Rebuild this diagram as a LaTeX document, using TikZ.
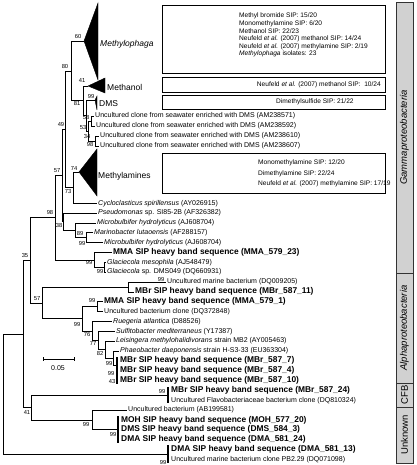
\documentclass[tikz,border=0pt]{standalone}
\usepackage{fontspec}
\setmainfont{Liberation Sans}
\usepackage{tikz}
\usetikzlibrary{calc}
\usetikzlibrary{positioning}
\tikzstyle{br} = [-, line width = 0.5]
\tikzstyle{bar} = [-, line width = 1.6]
\tikzstyle{lf} = [draw = none, inner sep = 1, anchor = west, font = \fontsize{7}{8}\selectfont]
\tikzstyle{bf} = [lf, font = \fontsize{8.4}{9}\selectfont\bfseries]
\tikzstyle{bs} = [draw = none, inner sep = 0, font = \fontsize{5.8}{6}\selectfont]
\tikzstyle{cl} = [draw = none, inner sep = 0, anchor = west, font = \fontsize{8.5}{9}\selectfont]
\tikzstyle{tri} = [fill = black, draw = black, line width = 0.4]
\tikzstyle{bx} = [draw = black, line width = 0.6]
\tikzstyle{bt} = [draw = none, inner sep = 0, anchor = west, font = \fontsize{6.6}{7}\selectfont]
\tikzstyle{grp} = [draw = black!80, fill = black!18, line width = 0.6]
\tikzstyle{gl} = [draw = none, inner sep = 0, rotate = 90, font = \fontsize{9.5}{10}\selectfont]

\begin{document}
\begin{tikzpicture}[x = 1pt, y = -1pt]
\useasboundingbox (0, 0) rectangle (416, 465);

% inner nodes of the tree
\coordinate (R) at (3, 393.9);
\coordinate (Big) at (23, 333.8);
\coordinate (n35) at (30, 260.2);
\coordinate (n98a) at (55, 217.6);
\coordinate (n57g) at (62, 175.4);
\coordinate (n49) at (65, 129.25);
\coordinate (n80) at (71, 70.9);
\coordinate (n81) at (83, 100.75);
\coordinate (nD) at (86, 115.5);
\coordinate (n53) at (88, 131);
\coordinate (n58) at (91, 121);
\coordinate (n34) at (95, 141);
\coordinate (n73) at (73, 187.6);
\coordinate (n38) at (63, 221.6);
\coordinate (n89) at (75, 230.3);
\coordinate (nMar) at (86, 237.65);
\coordinate (nG) at (94, 259.8);
\coordinate (nGl) at (104, 267.2);
\coordinate (n57) at (42, 302.8);
\coordinate (nUM) at (128, 286.9);
\coordinate (nA) at (82, 318.7);
\coordinate (nM1) at (97, 306.6);
\coordinate (n76) at (92, 330.9);
\coordinate (n77) at (98, 340.4);
\coordinate (n82) at (105, 349.5);
\coordinate (n99a) at (113, 358);
\coordinate (n41) at (31, 407.4);
\coordinate (nUnk) at (92, 419.9);

% collapsed clades
\coordinate (tMp) at (84, 41);
\coordinate (tMo) at (88, 86);
\coordinate (tDMS) at (95, 100);
\coordinate (tMa) at (79, 172);
\fill [tri] (tMp) -- (98, 3) -- (98, 80) -- cycle;
\fill [tri] (tMo) -- (105, 78) -- (105, 93) -- cycle;
\fill [tri] (tDMS) -- (97, 96) -- (97, 110) -- cycle;
\fill [tri] (tMa) -- (97, 149) -- (97, 196) -- cycle;
\node [cl] (lMp) at (100, 44) {\textit{Methylophaga}};
\node [cl] (lMo) at (107, 87) {Methanol};
\node [cl] (lDMS) at (99, 104) {DMS};
\node [cl] (lMa) at (98, 176) {Methylamines};

% bars of near identical sequences
\coordinate (mb1) at (117, 357);
\coordinate (mb2) at (117, 384);
\coordinate (mbc) at (117, 365);
\coordinate (cf1) at (168, 387);
\coordinate (cf2) at (168, 403);
\coordinate (cfc) at (168, 395);
\coordinate (md1) at (118, 416);
\coordinate (md2) at (118, 443);
\coordinate (mdc) at (118, 429.7);
\coordinate (d1) at (168, 445);
\coordinate (d2) at (168, 463);
\coordinate (dc) at (168, 454);
\draw [bar] (mb1) -- (mb2);
\draw [bar] (cf1) -- (cf2);
\draw [bar] (md1) -- (md2);
\draw [bar] (d1) -- (d2);

% leaves
\node [lf] (c1) at (94, 116) {Uncultured clone from seawater enriched with DMS (AM238571)};
\node [lf] (c2) at (95, 126) {Uncultured clone from seawater enriched with DMS (AM238592)};
\node [lf] (c3) at (99, 136) {Uncultured clone from seawater enriched with DMS (AM238610)};
\node [lf] (c4) at (99, 146) {Uncultured clone from seawater enriched with DMS (AM238607)};
\node [lf] (cyc) at (97, 203.2) {\textit{Cycloclasticus spirillensus} (AY026915)};
\node [lf] (pse) at (97, 213) {\textit{Pseudomonas} sp. SI85-2B (AF326382)};
\node [lf] (mic1) at (96, 222.9) {\textit{Microbulbifer hydrolyticus} (AJ608704)};
\node [lf] (mar) at (93, 232.7) {\textit{Marinobacter lutaoensis} (AF288157)};
\node [lf] (mic2) at (103, 242.6) {\textit{Microbulbifer hydrolyticus} (AJ608704)};
\node [bf] (mma23) at (112, 252.4) {MMA SIP heavy band sequence (MMA\_579\_23)};
\node [lf] (glm) at (106, 262.3) {\textit{Glaciecola mesophila} (AJ548479)};
\node [lf] (gls) at (106, 272.1) {\textit{Glaciecola} sp. DMS049 (DQ660931)};
\node [lf] (um) at (166, 282) {Uncultured marine bacterium (DQ009205)};
\node [bf] (mbr11) at (134, 291.8) {MBr SIP heavy band sequence (MBr\_587\_11)};
\node [bf] (mma1) at (103, 301.7) {MMA SIP heavy band sequence (MMA\_579\_1)};
\node [lf] (ubc) at (103, 311.5) {Uncultured bacterium clone (DQ372848)};
\node [lf] (rue) at (112, 321.4) {\textit{Ruegeria atlantica} (D88526)};
\node [lf] (sul) at (115, 331.2) {\textit{Sulfitobacter mediterraneus} (Y17387)};
\node [lf] (lei) at (115, 341.1) {\textit{Leisingera methylohalidivorans} strain MB2 (AY005463)};
\node [lf] (pha) at (119, 350.9) {\textit{Phaeobacter daeponensis} strain H-S3-33 (EU363304)};
\node [bf] (mbr7) at (119, 360.8) {MBr SIP heavy band sequence (MBr\_587\_7)};
\node [bf] (mbr4) at (119, 370.6) {MBr SIP heavy band sequence (MBr\_587\_4)};
\node [bf] (mbr10) at (119, 380.5) {MBr SIP heavy band sequence (MBr\_587\_10)};
\node [bf] (mbr24) at (170, 390.3) {MBr SIP heavy band sequence (MBr\_587\_24)};
\node [lf] (fla) at (170, 400.2) {Uncultured Flavobacteriaceae bacterium clone (DQ810324)};
\node [lf] (ab) at (127, 410) {Uncultured bacterium (AB199581)};
\node [bf] (moh) at (120, 419.9) {MOH SIP heavy band sequence (MOH\_577\_20)};
\node [bf] (dms3) at (120, 429.7) {DMS SIP heavy band sequence (DMS\_584\_3)};
\node [bf] (dma24) at (120, 439.6) {DMA SIP heavy band sequence (DMA\_581\_24)};
\node [bf] (dma13) at (170, 449.4) {DMA SIP heavy band sequence (DMA\_581\_13)};
\node [lf] (pb) at (170, 459.3) {Uncultured marine bacterium clone PB2.29 (DQ071098)};

% branches
\draw [br] (R) |- (Big);
\draw [br] (R) |- (dc);
\draw [br] (Big) |- (n35);
\draw [br] (Big) |- (n41);
\draw [br] (n35) |- (n98a);
\draw [br] (n35) |- (n57);
\draw [br] (n98a) |- (n57g);
\draw [br] (n98a) |- (nG);
\draw [br] (n57g) |- (n49);
\draw [br] (n57g) |- (n38);
\draw [br] (n49) |- (n80);
\draw [br] (n49) |- (n73);
\draw [br] (n80) |- (tMp);
\draw [br] (n80) |- (n81);
\draw [br] (n81) |- (tMo);
\draw [br] (n81) |- (nD);
\draw [br] (nD) |- (tDMS);
\draw [br] (nD) |- (n53);
\draw [br] (n53) |- (n58);
\draw [br] (n53) |- (n34);
\draw [br] (n58) |- (c1.west);
\draw [br] (n58) |- (c2.west);
\draw [br] (n34) |- (c3.west);
\draw [br] (n34) |- (c4.west);
\draw [br] (n73) |- (tMa);
\draw [br] (n73) |- (cyc.west);
\draw [br] (n38) |- (pse.west);
\draw [br] (n38) |- (n89);
\draw [br] (n89) |- (mic1.west);
\draw [br] (n89) |- (nMar);
\draw [br] (nMar) |- (mar.west);
\draw [br] (nMar) |- (mic2.west);
\draw [br] (nG) |- (mma23.west);
\draw [br] (nG) |- (nGl);
\draw [br] (nGl) |- (glm.west);
\draw [br] (nGl) |- (gls.west);
\draw [br] (n57) |- (nUM);
\draw [br] (n57) |- (nA);
\draw [br] (nUM) |- (um.west);
\draw [br] (nUM) |- (mbr11.west);
\draw [br] (nA) |- (nM1);
\draw [br] (nA) |- (n76);
\draw [br] (nM1) |- (mma1.west);
\draw [br] (nM1) |- (ubc.west);
\draw [br] (n76) |- (rue.west);
\draw [br] (n76) |- (n77);
\draw [br] (n77) |- (sul.west);
\draw [br] (n77) |- (n82);
\draw [br] (n82) |- (lei.west);
\draw [br] (n82) |- (n99a);
\draw [br] (n99a) |- (pha.west);
\draw [br] (n99a) |- (mbc);
\draw [br] (n41) |- (cfc);
\draw [br] (n41) |- (nUnk);
\draw [br] (nUnk) |- (ab.west);
\draw [br] (nUnk) |- (mdc);

% bootstrap values
\node [bs] (b60) at (78, 37) {60};
\node [bs] (b80) at (65, 67) {80};
\node [bs] (b41a) at (82, 81) {41};
\node [bs] (b99a) at (91, 97) {99};
\node [bs] (b81) at (77, 104) {81};
\node [bs] (b58) at (86, 118) {58};
\node [bs] (b49) at (61, 125) {49};
\node [bs] (b53) at (83, 128) {53};
\node [bs] (b34) at (87, 137) {34};
\node [bs] (b98a) at (90, 145) {98};
\node [bs] (b74) at (74, 169) {74};
\node [bs] (b57a) at (57, 171) {57};
\node [bs] (b73) at (68, 192) {73};
\node [bs] (b98b) at (50, 213) {98};
\node [bs] (b38) at (59, 226) {38};
\node [bs] (b89) at (80, 234) {89};
\node [bs] (b99b) at (82, 244) {99};
\node [bs] (b35) at (25, 256) {35};
\node [bs] (b99c) at (89, 263) {99};
\node [bs] (b99d) at (100, 272) {99};
\node [bs] (b99e) at (161, 280) {99};
\node [bs] (b57b) at (37, 299) {57};
\node [bs] (b99f) at (92, 301) {99};
\node [bs] (b99g) at (77, 325) {99};
\node [bs] (b76) at (87, 334) {76};
\node [bs] (b77) at (93, 344) {77};
\node [bs] (b82) at (100, 353) {82};
\node [bs] (b99h) at (109, 363) {99};
\node [bs] (b99i) at (111, 373) {99};
\node [bs] (b43) at (112, 381) {43};
\node [bs] (b99j) at (162, 391) {99};
\node [bs] (b41b) at (27, 412) {41};
\node [bs] (b99k) at (86, 424) {99};
\node [bs] (b99l) at (113, 434) {99};
\node [bs] (b99m) at (163, 462) {99};

% scale bar
\coordinate (s1) at (43, 359);
\coordinate (s2) at (74, 359);
\draw [br] (s1) -- (s2);
\draw [br] ($(s1) + (0, -2)$) -- ($(s1) + (0, 2)$);
\draw [br] ($(s2) + (0, -2)$) -- ($(s2) + (0, 2)$);
\node [draw = none, inner sep = 0, font = \fontsize{7}{8}\selectfont] (sl) at (58, 368) {0.05};

% SIP boxes
\draw [bx] (162, 5) rectangle (385, 73);
\node [bt] (t1) at (239, 16) {Methyl bromide SIP: 15/20};
\node [bt] (t2) at (239, 23.6) {Monomethylamine SIP: 6/20};
\node [bt] (t3) at (239, 31.2) {Methanol SIP: 22/23};
\node [bt] (t4) at (239, 38.8) {Neufeld \textit{et al.} (2007) methanol SIP: 14/24};
\node [bt] (t5) at (239, 46.4) {Neufeld \textit{et al.} (2007) methylamine SIP: 2/19};
\node [bt] (t6) at (239, 54) {\textit{Methylophaga} isolates: 23};
\draw [bx] (162, 77) rectangle (385, 92);
\node [bt, anchor = east] (t7) at (381, 84.5) {Neufeld \textit{et al.} (2007) methanol SIP:\ \ 10/24};
\draw [bx] (162, 95) rectangle (385, 109);
\node [bt] (t8) at (276, 102) {Dimethylsulfide SIP: 21/22};
\draw [bx] (162, 153) rectangle (385, 193);
\node [bt] (t9) at (258, 163) {Monomethylamine SIP: 12/20};
\node [bt] (t10) at (258, 173.5) {Dimethylamine SIP: 22/24};
\node [bt] (t11) at (258, 184) {Neufeld \textit{et al.} (2007) methylamine SIP: 17/19};

% groups at the side
\draw [grp] (396, 2) rectangle (413, 273);
\draw [grp] (396, 273) rectangle (413, 383);
\draw [grp] (396, 383) rectangle (413, 407);
\draw [grp] (396, 407) rectangle (413, 463);
\node [gl] (gGam) at (404.5, 137.5) {\textit{Gammaproteobacteria}};
\node [gl] (gAlp) at (404.5, 328) {\textit{Alphaproteobacteria}};
\node [gl] (gCFB) at (404.5, 395) {CFB};
\node [gl] (gUnk) at (404.5, 435) {Unknown};
\end{tikzpicture}
\end{document}
